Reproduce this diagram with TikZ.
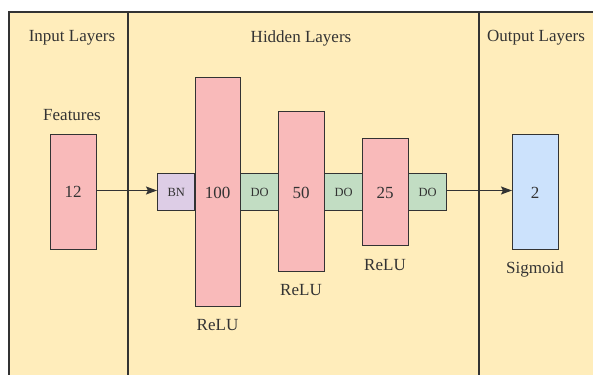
\documentclass[tikz,border=0pt]{standalone}
\usepackage{fontspec}
\setmainfont{Liberation Serif}
\usetikzlibrary{arrows.meta}
\definecolor{bgy}{HTML}{FFEDBB}
\definecolor{pinkf}{HTML}{F9BABA}
\definecolor{purf}{HTML}{DDCDE6}
\definecolor{bluef}{HTML}{CCE2FC}
\definecolor{greenf}{HTML}{C2DDC3}
\definecolor{ink}{HTML}{333333}
\tikzset{
  layer/.style={draw=ink, line width=1.4pt, inner sep=0pt, anchor=north west, text=ink, font=\fontsize{17}{19}\selectfont},
  small/.style={layer, font=\fontsize{12.5}{14}\selectfont},
  lbl/.style={text=ink, font=\fontsize{17}{19}\selectfont, inner sep=0pt},
  conn/.style={draw=ink, line width=1.2pt, -{Stealth[length=11pt,width=8pt,inset=2pt]}},
}
\begin{document}
\begin{tikzpicture}[x=1pt,y=-1pt]
\useasboundingbox (0,0) rectangle (593,374);
\begin{scope}
\clip (0,0) rectangle (593,374);
\fill[bgy] (9,12) rectangle (600,380);
\draw[ink, line width=1.4pt] (9,380) -- (9,12) -- (600,12);
\draw[ink, line width=1.4pt] (128,12) -- (128,380);
\draw[ink, line width=1.4pt] (479,12) -- (479,380);
\end{scope}
% titles
\node[lbl] (tin) at (72,38) {Input Layers};
\node[lbl] (thid) at (301,38) {Hidden Layers};
\node[lbl] (tout) at (536,38) {Output Layers};
% input
\node[lbl] (feat) at (72,115) {Features};
\node[layer, fill=pinkf, minimum width=46pt, minimum height=115pt] (in) at (49.5,134) {};
\node[lbl] (inlbl) at (in.center) {12};
% hidden
\node[small, fill=purf, minimum width=37pt, minimum height=37pt] (bn) at (157,173) {BN};
\node[layer, fill=pinkf, minimum width=45pt, minimum height=229pt] (h1) at (195,77) {};
\node[lbl] (h1n) at (217.5,193) {100};
\node[small, fill=greenf, minimum width=38pt, minimum height=37pt] (do1) at (240,173) {DO};
\node[layer, fill=pinkf, minimum width=46pt, minimum height=160pt] (h2) at (278,111) {};
\node[lbl] (h2n) at (301,193) {50};
\node[small, fill=greenf, minimum width=38pt, minimum height=37pt] (do2) at (324,173) {DO};
\node[layer, fill=pinkf, minimum width=46pt, minimum height=107pt] (h3) at (362,138) {};
\node[lbl] (h3n) at (385,193) {25};
\node[small, fill=greenf, minimum width=38pt, minimum height=37pt] (do3) at (408,173) {DO};
\node[lbl] (r1) at (217.5,325) {ReLU};
\node[lbl] (r2) at (301,290) {ReLU};
\node[lbl] (r3) at (385,265) {ReLU};
% output
\node[layer, fill=bluef, minimum width=46pt, minimum height=115pt] (out) at (512,134) {};
\node[lbl] (outn) at (535,193) {2};
\node[lbl] (sig) at (535,269) {Sigmoid};
% connectors
\draw[conn] (in.east |- 0,190.5) -- (bn.west |- 0,190.5);
\draw[conn] (do3.east |- 0,190.5) -- (out.west |- 0,190.5);
\end{tikzpicture}
\end{document}
